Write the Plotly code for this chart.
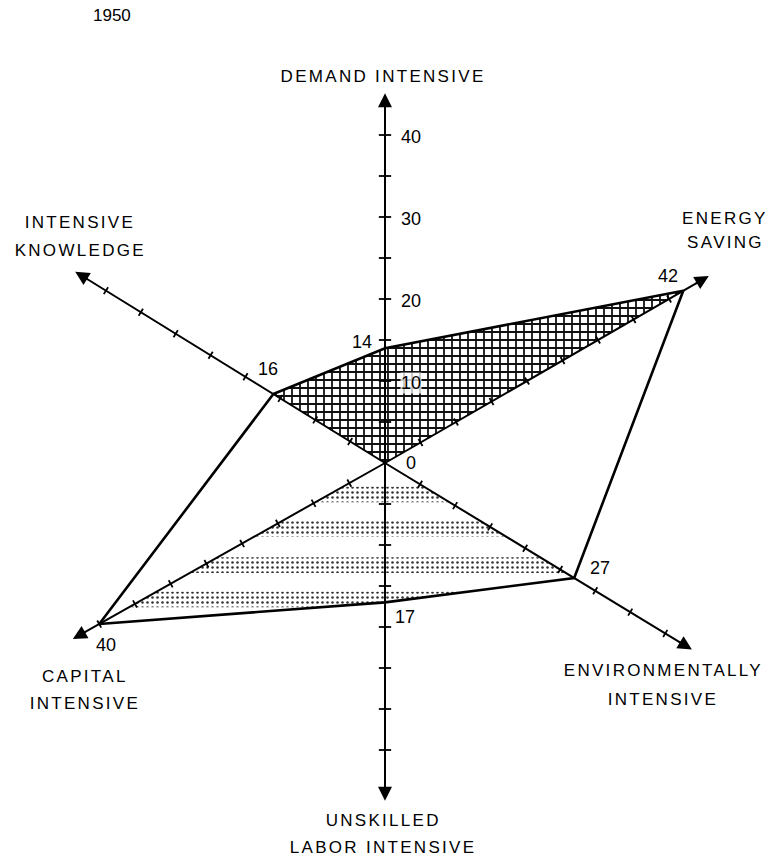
import math
import plotly.graph_objects as go

# ---------------- data ----------------
TITLE = "1950"
categories = [
    "DEMAND INTENSIVE",
    "ENERGY<br>SAVING",
    "ENVIRONMENTALLY<br>INTENSIVE",
    "UNSKILLED<br>LABOR INTENSIVE",
    "CAPITAL<br>INTENSIVE",
    "INTENSIVE<br>KNOWLEDGE",
]
values = [14, 42, 27, 17, 40, 16]
tick_values = [5, 10, 15, 20, 25, 30, 35, 40]
scale_labels = [0, 10, 20, 30, 40]

# ---------------- geometry / style ----------------
W, H = 777, 863
CX, CY = 385, 463          # pixel position of the origin
PX = 8.2                   # pixels per unit
ANGLES = [90, 30, -31.3, -90, 209.4, 148.3]
AXIS_LEN = [45.1, 45.6, 43.8, 41.2, 43.7, 44.4]
VALUE_SHIFT = [(-23, 6), (-15, 15), (26, 10), (20, -15), (7, -21), (-5, 25)]
CAT_POS = [(383, [76]), (725, [218, 242]), (663, [670, 699]),
           (383, [820, 847]), (85, [676, 703]), (80, [223, 250])]
BAND_TOPS = [-2.9, -7.1, -11.5, -15.7, -19.9]   # stipple bands (units)
BAND_H = 1.9
FONT = "Liberation Sans, Arial, sans-serif"
INK = "#000000"


def pol(v, ang):
    a = math.radians(ang)
    return v * math.cos(a), v * math.sin(a)


def clip_half(poly, keep):
    """Sutherland-Hodgman clip against a horizontal half-plane."""
    out = []
    n = len(poly)
    for i in range(n):
        p, q = poly[i], poly[(i + 1) % n]
        ip, iq = keep(p), keep(q)
        if ip:
            out.append(p)
        if ip != iq:
            y0 = keep.y0
            t = (y0 - p[1]) / (q[1] - p[1])
            out.append((p[0] + t * (q[0] - p[0]), y0))
    return out


def below(y0):
    f = lambda p: p[1] <= y0
    f.y0 = y0
    return f


def above(y0):
    f = lambda p: p[1] >= y0
    f.y0 = y0
    return f


fig = go.Figure()

verts = [pol(v, a) for v, a in zip(values, ANGLES)]

# upper cross-hatched region: origin, knowledge, demand, energy
up_idx = [5, 0, 1]
ux = [0] + [verts[i][0] for i in up_idx] + [0]
uy = [0] + [verts[i][1] for i in up_idx] + [0]
fig.add_trace(go.Scatter(
    x=ux, y=uy, mode="lines", fill="toself", fillcolor="white",
    line=dict(width=0, color=INK),
    fillpattern=dict(shape="+", fgcolor="#111111", bgcolor="white",
                     size=8, solidity=0.4, fillmode="replace"),
    hoverinfo="skip", showlegend=False))

# lower stippled region: origin, environment, unskilled, capital (banded dots)
lo_idx = [2, 3, 4]
lower_poly = [(0.0, 0.0)] + [verts[i] for i in lo_idx]
for top in BAND_TOPS:
    band = clip_half(lower_poly, below(top))
    if len(band) >= 3:
        band = clip_half(band, above(top - BAND_H))
    if len(band) < 3:
        continue
    bx = [p[0] for p in band] + [band[0][0]]
    by = [p[1] for p in band] + [band[0][1]]
    fig.add_trace(go.Scatter(
        x=bx, y=by, mode="lines", fill="toself", fillcolor="white",
        line=dict(width=0, color=INK),
        fillpattern=dict(shape=".", fgcolor="#333333", bgcolor="white",
                         size=5, solidity=0.2, fillmode="replace"),
        hoverinfo="skip", showlegend=False))

# axes lines
axx, axy = [], []
for L, a in zip(AXIS_LEN, ANGLES):
    ex, ey = pol(L - 1.0, a)
    axx += [0, ex, None]
    axy += [0, ey, None]
fig.add_trace(go.Scatter(x=axx, y=axy, mode="lines",
                         line=dict(color=INK, width=2),
                         hoverinfo="skip", showlegend=False))

# tick marks
tkx, tky = [], []
for L, a in zip(AXIS_LEN, ANGLES):
    half = 0.75 if abs(abs(a) - 90) < 1 else 0.5
    for t in tick_values:
        if t > L - 2.0:
            continue
        px_, py_ = pol(t, a)
        dx, dy = pol(half, a + 90)
        tkx += [px_ - dx, px_ + dx, None]
        tky += [py_ - dy, py_ + dy, None]
fig.add_trace(go.Scatter(x=tkx, y=tky, mode="lines",
                         line=dict(color=INK, width=1.8),
                         hoverinfo="skip", showlegend=False))

# outer profile polygon
order = [5, 0, 1, 2, 3, 4, 5]
fig.add_trace(go.Scatter(
    x=[verts[i][0] for i in order], y=[verts[i][1] for i in order],
    mode="lines", line=dict(color=INK, width=2.6),
    hoverinfo="skip", showlegend=False))

annotations = []

# arrowheads
for L, a in zip(AXIS_LEN, ANGLES):
    tx, ty = pol(L, a)
    bx, by = pol(L - 2.0, a)
    annotations.append(dict(
        x=tx, y=ty, ax=bx, ay=by, xref="x", yref="y", axref="x", ayref="y",
        text="", showarrow=True, arrowhead=2, arrowsize=1.4, arrowwidth=2,
        arrowcolor=INK, standoff=0, startstandoff=0))

# value labels at vertices
for (vx, vy), v, (sx, sy) in zip(verts, values, VALUE_SHIFT):
    annotations.append(dict(
        x=vx, y=vy, xref="x", yref="y", text=str(v), showarrow=False,
        xshift=sx, yshift=sy, font=dict(family=FONT, size=18, color=INK)))

# scale labels on the vertical axis
for s in scale_labels:
    sx_, sy_ = pol(s, ANGLES[0])
    annotations.append(dict(
        x=sx_, y=sy_, xref="x", yref="y", text=str(s), showarrow=False,
        xanchor="left", xshift=15 if s else 20, yshift=-2 if s else 0,
        bgcolor="rgba(255,255,255,0.75)", borderpad=0,
        font=dict(family=FONT, size=18, color=INK)))

# category labels
for name, (cx, lines) in zip(categories, CAT_POS):
    for part, ly_ in zip(name.split("<br>"), lines):
        annotations.append(dict(
            x=cx / W, y=1 - ly_ / H, xref="paper", yref="paper",
            text=part, showarrow=False, xanchor="center", yanchor="middle",
            font=dict(family=FONT, size=17, color=INK)))

# title
annotations.append(dict(
    x=112 / W, y=1 - 15 / H, xref="paper", yref="paper", text=TITLE,
    showarrow=False, xanchor="center", yanchor="middle",
    font=dict(family=FONT, size=17, color=INK)))

fig.update_layout(
    width=W, height=H,
    margin=dict(l=0, r=0, t=0, b=0),
    paper_bgcolor="white", plot_bgcolor="white",
    xaxis=dict(range=[-CX / PX, (W - CX) / PX], visible=False, fixedrange=True),
    yaxis=dict(range=[-(H - CY) / PX, CY / PX], visible=False, fixedrange=True),
    annotations=annotations,
    showlegend=False,
)

post = """
document.body.style.margin = '0';
document.body.style.overflow = 'hidden';
document.querySelectorAll('.annotation-text').forEach(function(t){
  if (/[A-Z]{3}/.test(t.textContent)) { t.style.letterSpacing = '2.3px'; }
});
"""

fig.write_html("out.html", post_script=post, config={"displayModeBar": False})
